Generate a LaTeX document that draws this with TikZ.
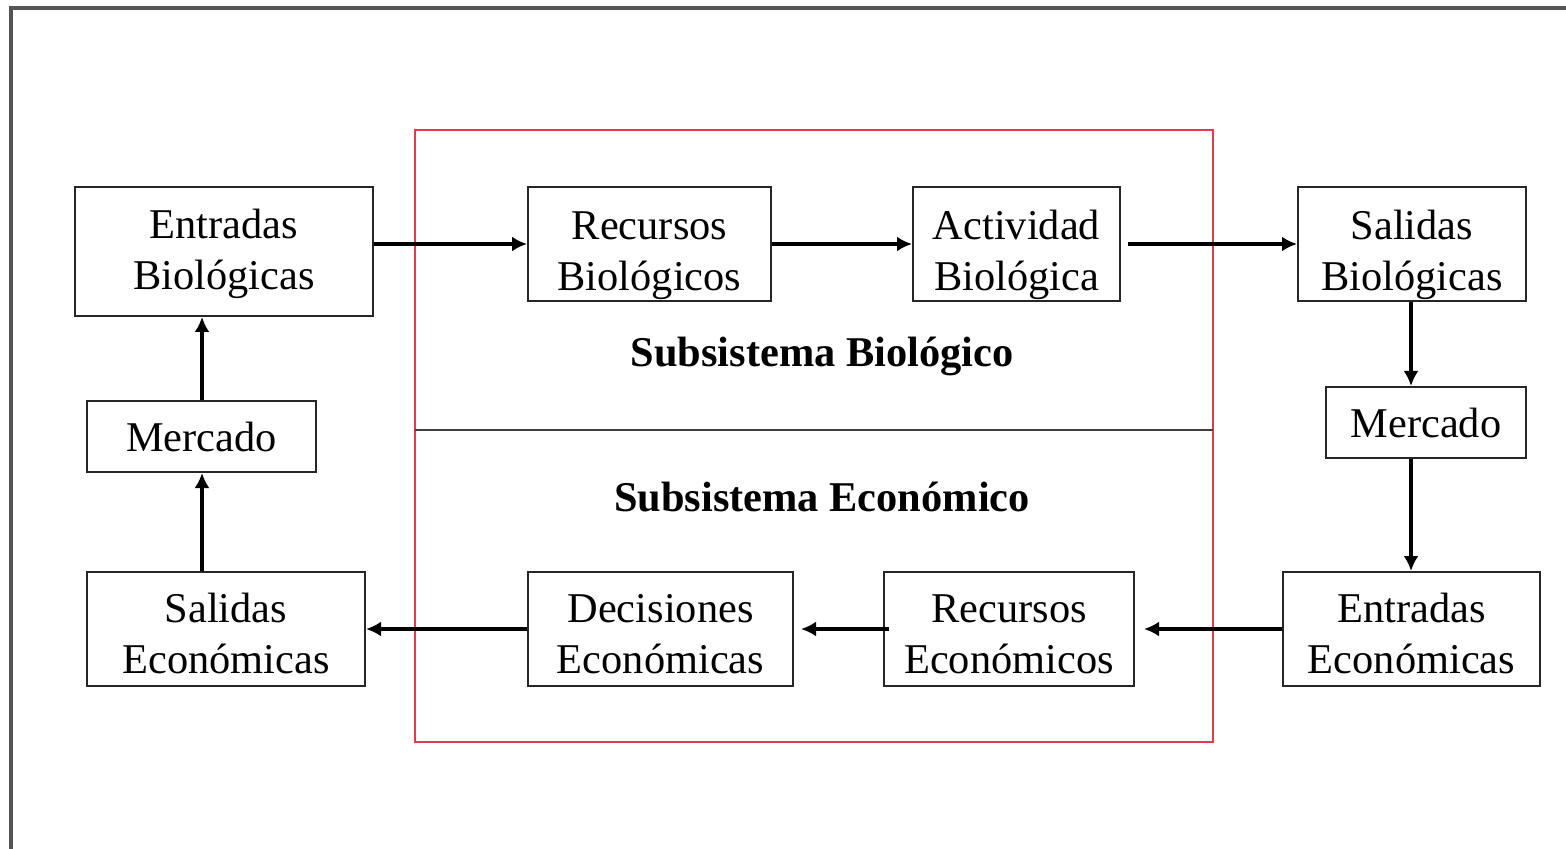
\documentclass[tikz,border=0pt]{standalone}
\usepackage{fontspec}
\setmainfont{Liberation Serif}
\usetikzlibrary{arrows.meta}
\definecolor{framered}{RGB}{222,62,72}
\definecolor{frameline}{RGB}{85,85,85}
\newcommand{\lowstrut}[1]{\rule{0pt}{#1}}
\begin{document}
\begin{tikzpicture}[x=0.5pt,y=-0.5pt,
  box/.style={draw=black!85,line width=1pt,inner sep=0pt,align=center,
    font=\fontsize{21.2}{25.5}\selectfont},
  flow/.style={line width=1.9pt,-{Latex[length=7.5pt,width=7.5pt]}},
  title/.style={font=\fontsize{21.2}{25}\selectfont\bfseries}]
\useasboundingbox (0,0) rectangle (1566,849);
% outer frame (only left and top edges visible)
\draw[frameline,line width=1.6pt] (11,849) -- (11,8) -- (1566,8);
% red subsystem frame
\draw[framered,line width=1.3pt] (415,130) rectangle (1213,742);
\draw[black!75,line width=1.4pt] (415,430) -- (1213,430);
\node[title] (tbio) at (822,356) {Subsistema Biológico};
\node[title] (teco) at (822,497) {Subsistema Económico};
% boxes
\node[box,minimum width=149pt,minimum height=64.5pt] (eb) at (224,251.5) {\lowstrut{17.5pt}Entradas\\Biológicas};
\node[box,minimum width=121.5pt,minimum height=57pt] (rb) at (649.5,244) {\lowstrut{26pt}Recursos\\Biológicos};
\node[box,minimum width=103.5pt,minimum height=57pt] (ab) at (1016.5,244) {\lowstrut{26pt}Actividad\\Biológica};
\node[box,minimum width=114pt,minimum height=57pt] (sb) at (1412,244) {\lowstrut{26pt}Salidas\\Biológicas};
\node[box,minimum width=100pt,minimum height=35.5pt] (mr) at (1426,422.5) {Mercado};
\node[box,minimum width=128.5pt,minimum height=57pt] (ee) at (1411.5,629) {\lowstrut{19pt}Entradas\\Económicas};
\node[box,minimum width=125pt,minimum height=57pt] (re) at (1009,629) {\lowstrut{19pt}Recursos\\Económicos};
\node[box,minimum width=132.5pt,minimum height=57pt] (de) at (660.5,629) {\lowstrut{19pt}Decisiones\\Económicas};
\node[box,minimum width=139pt,minimum height=57pt] (se) at (226,629) {\lowstrut{19pt}Salidas\\Económicas};
\node[box,minimum width=114.5pt,minimum height=35.5pt] (ml) at (201.5,436.5) {Mercado};
% connectors
\draw[flow] (eb.east |- rb.west) -- (rb.west);
\draw[flow] (rb.east) -- (ab.west);
\draw[flow,shorten <=3.5pt] (ab.east) -- (sb.west);
\draw[flow] (sb.south -| 1411,0) -- (mr.north -| 1411,0);
\draw[flow] (mr.south -| 1411,0) -- (ee.north -| 1411,0);
\draw[flow,shorten >=4.5pt] (ee.west) -- (re.east);
\draw[flow,shorten <=-3pt,shorten >=3.5pt] (re.west) -- (de.east);
\draw[flow] (de.west) -- (se.east);
\draw[flow] (se.north -| 202,0) -- (ml.south -| 202,0);
\draw[flow] (ml.north -| 202,0) -- (eb.south -| 202,0);
\end{tikzpicture}
\end{document}
